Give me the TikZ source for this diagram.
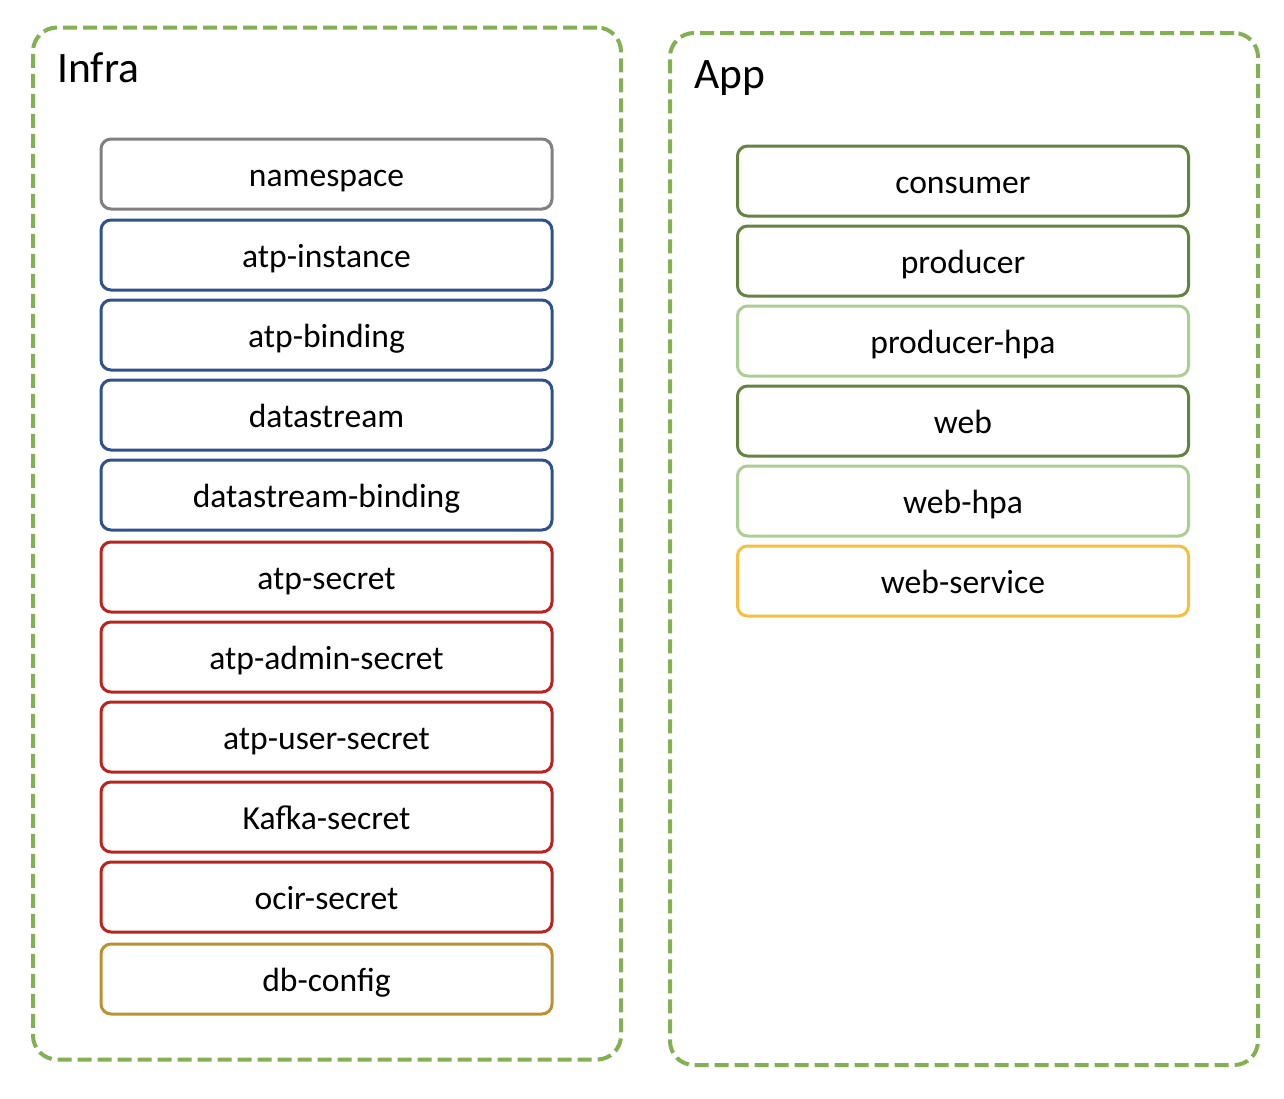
\documentclass[tikz,border=0pt]{standalone}
\usepackage{fontspec}
\setmainfont{Carlito}
\definecolor{grpgreen}{RGB}{130,176,82}
\definecolor{bxgray}{RGB}{128,128,128}
\definecolor{bxblue}{RGB}{47,82,143}
\definecolor{bxred}{RGB}{185,37,30}
\definecolor{bxgold}{RGB}{186,146,50}
\definecolor{bxdkgreen}{RGB}{98,132,64}
\definecolor{bxltgreen}{RGB}{171,206,146}
\definecolor{bxyellow}{RGB}{245,192,62}
\tikzset{
  group/.style={draw=grpgreen, line width=4pt, dash pattern=on 14pt off 6pt, rounded corners=24pt, rectangle, inner sep=0pt},
  grouptitle/.style={anchor=base west, inner sep=0pt, font=\fontsize{43.5}{50}\selectfont},
  item/.style={draw=#1, line width=3pt, rounded corners=10pt, rectangle, minimum width=451pt, minimum height=70pt, inner sep=0pt, text height=30pt, text depth=5pt, font=\fontsize{33.6}{40}\selectfont, fill=white}
}
\begin{document}
\begin{tikzpicture}[x=1pt,y=-1pt]
\path[fill=white] (0,0) rectangle (1284,1098);
\useasboundingbox (0,0) rectangle (1284,1098);
\node[group, minimum width=588pt, minimum height=1032pt] (infra) at (327,543.5) {};
\node[group, minimum width=588pt, minimum height=1032pt] (app) at (964,549) {};
\node[grouptitle] (infratitle) at (57,82) {Infra};
\node[grouptitle] (apptitle) at (694,88) {App};
% Infra items
\node[item=bxgray]   (ns)   at (326.5,174) {namespace};
\node[item=bxblue]   (atpi) at (326.5,255) {atp-instance};
\node[item=bxblue]   (atpb) at (326.5,335) {atp-binding};
\node[item=bxblue]   (ds)   at (326.5,415) {datastream};
\node[item=bxblue]   (dsb)  at (326.5,495) {datastream-binding};
\node[item=bxred]    (atps) at (326.5,577) {atp-secret};
\node[item=bxred]    (atpa) at (326.5,657) {atp-admin-secret};
\node[item=bxred]    (atpu) at (326.5,737) {atp-user-secret};
\node[item=bxred]    (kafs) at (326.5,817) {Kafka-secret};
\node[item=bxred]    (ocir) at (326.5,897) {ocir-secret};
\node[item=bxgold]   (dbc)  at (326.5,979) {db-config};
% App items
\node[item=bxdkgreen] (cons) at (963,181) {consumer};
\node[item=bxdkgreen] (prod) at (963,261) {producer};
\node[item=bxltgreen] (prodh) at (963,341) {producer-hpa};
\node[item=bxdkgreen] (web)  at (963,421) {web};
\node[item=bxltgreen] (webh) at (963,501) {web-hpa};
\node[item=bxyellow]  (webs) at (963,581) {web-service};
\end{tikzpicture}
\end{document}
